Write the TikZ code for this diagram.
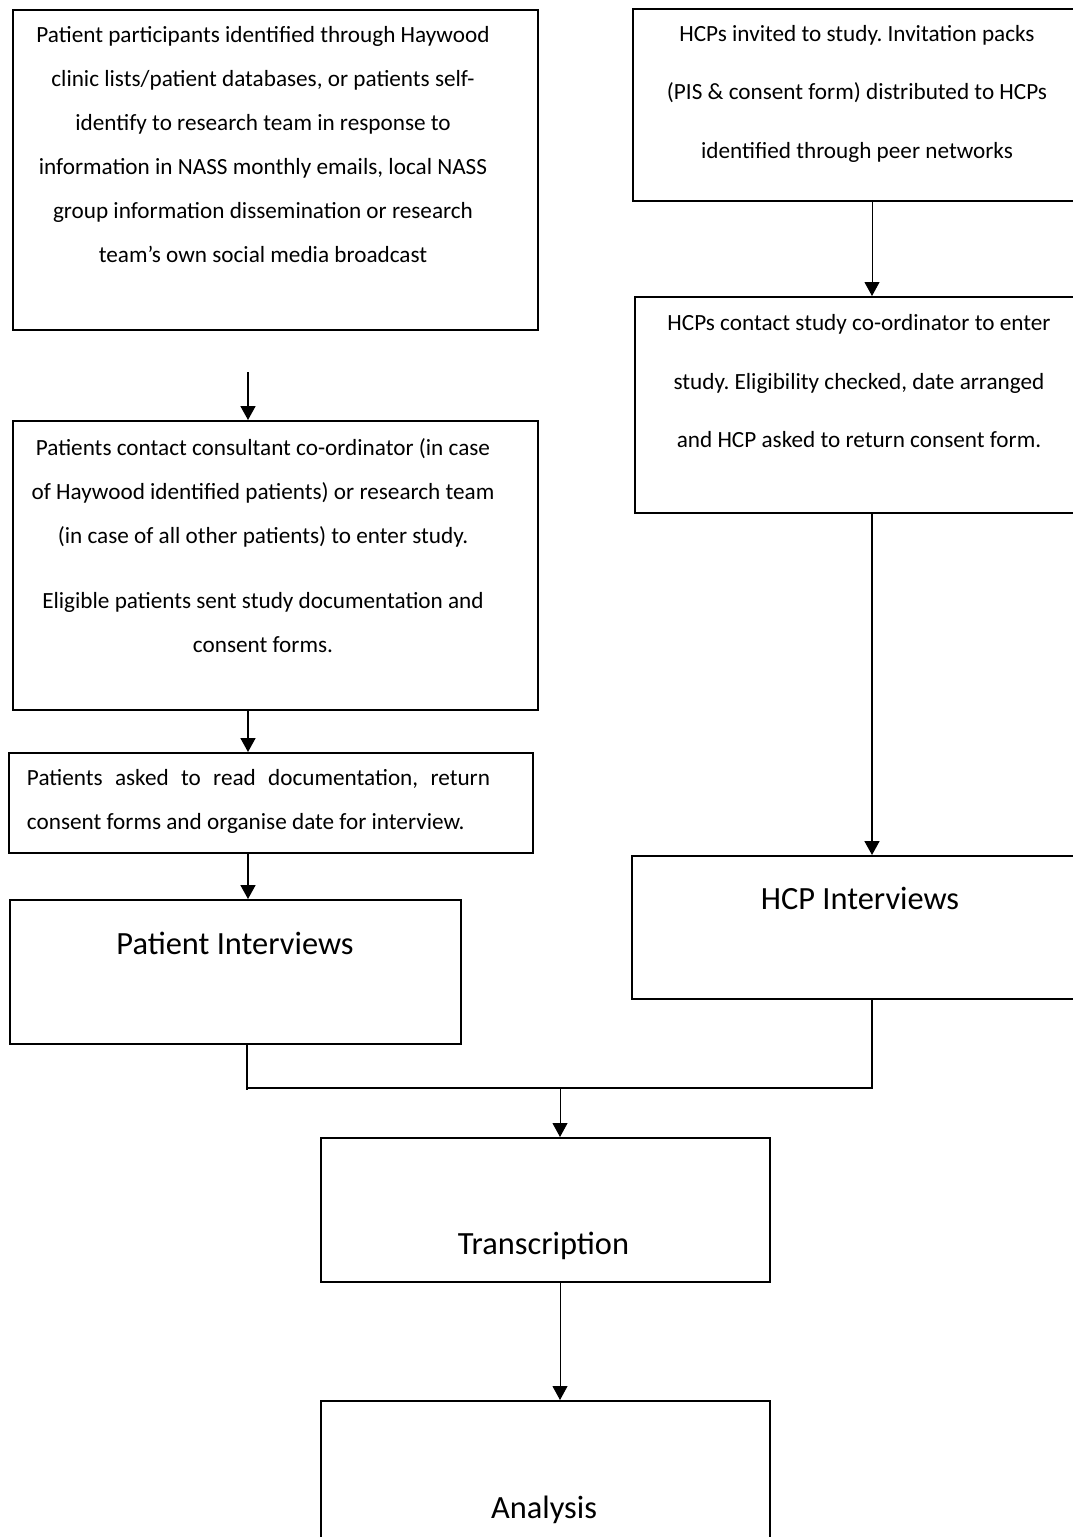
\documentclass[tikz,border=0pt]{standalone}
\usepackage{fontspec}
\setmainfont{Carlito}
\usetikzlibrary{arrows.meta}
\begin{document}
\frenchspacing
\begin{tikzpicture}[x=1pt,y=-1pt,
  box/.style={draw=black,line width=1.5pt,rectangle,inner sep=0pt,anchor=north west},
  small/.style={font=\frenchspacing\fontsize{23.2}{44}\selectfont,align=center,inner sep=0pt},
  smallw/.style={font=\frenchspacing\fontsize{23.2}{58.5}\selectfont,align=center,inner sep=0pt},
  big/.style={font=\fontsize{32.4}{36}\selectfont,inner sep=0pt},
  thickarr/.style={line width=1.7pt,-{Triangle[length=14pt,width=15pt]}},
  thinarr/.style={line width=1pt,-{Triangle[length=14pt,width=15pt]}},
  joinline/.style={line width=1.5pt}]
\useasboundingbox[fill=white] (0,0) rectangle (1073,1537);
% boxes
\node[box,minimum width=525pt,minimum height=320pt] (A) at (12,9) {};
\node[box,minimum width=450pt,minimum height=192pt] (B) at (632,8) {};
\node[box,minimum width=450pt,minimum height=216pt] (C) at (634,296) {};
\node[box,minimum width=525pt,minimum height=289pt] (D) at (12,420) {};
\node[box,minimum width=524pt,minimum height=100pt] (E) at (8,752) {};
\node[box,minimum width=451pt,minimum height=144pt] (F) at (9,899) {};
\node[box,minimum width=450pt,minimum height=143pt] (G) at (631,855) {};
\node[box,minimum width=449pt,minimum height=144pt] (H) at (320,1137) {};
\node[box,minimum width=449pt,minimum height=160pt] (I) at (320,1400) {};
% texts
\node[small] (tA) at (263,145) {Patient participants identified through Haywood\\clinic lists/patient databases, or patients self-\\identify to research team in response to\\information in NASS monthly emails, local NASS\\group information dissemination or research\\team’s own social media broadcast};
\node[smallw] (tB) at (857,93.5) {HCPs invited to study. Invitation packs\\(PIS \& consent form) distributed to HCPs\\identified through peer networks};
\node[smallw] (tC) at (859,381.5) {HCPs contact study co-ordinator to enter\\study. Eligibility checked, date arranged\\and HCP asked to return consent form.};
\node[small] (tD) at (263,546) {Patients contact consultant co-ordinator (in case\\of Haywood identified patients) or research team\\(in case of all other patients) to enter study.\\[21pt]Eligible patients sent study documentation and\\consent forms.};
\node[small,align=flush left,text width=463pt] (tE) at (258.5,801) {\hbox to 463pt{Patients\hfill asked\hfill to\hfill read\hfill documentation,\hfill return}\\consent forms and organise date for interview.};
\node[big] (tF) at (235,943) {Patient Interviews};
\node[big] (tG) at (860,898) {HCP Interviews};
\node[big] (tH) at (543.5,1246) {Transcription};
\node[big] (tI) at (544,1510) {Analysis};
% connectors
\coordinate (a1) at (248,372);
\draw[thickarr] (a1) -- (a1 |- D.north);
\draw[thinarr] (872,200) coordinate (b1) -- (b1 |- C.north);
\draw[thickarr] (248,709) coordinate (d1) -- (d1 |- E.north);
\draw[thickarr] (248,852) coordinate (e1) -- (e1 |- F.north);
\draw[thickarr] (872,512) coordinate (c1) -- (c1 |- G.north);
\coordinate (f1) at (247,1043);
\coordinate (f2) at (247,1090);
\coordinate (g1) at (872,998);
\coordinate (j1) at (872,1088);
\coordinate (j2) at (247,1088);
\coordinate (m1) at (560,1088);
\draw[joinline] (f1) -- (f2);
\draw[joinline] (g1) -- (j1) -- (j2);
\draw[thinarr] (m1) -- (m1 |- H.north);
\draw[thinarr] (560,1281) coordinate (h1) -- (h1 |- I.north);
\end{tikzpicture}
\end{document}
